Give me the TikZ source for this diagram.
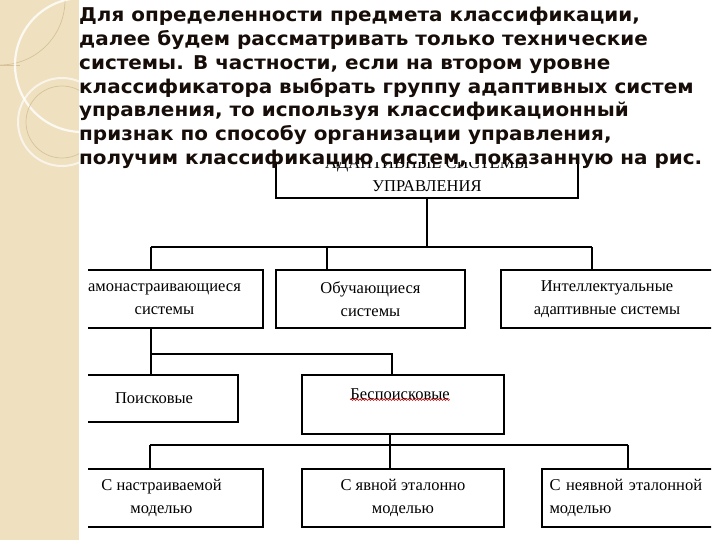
\documentclass[tikz,border=0pt]{standalone}
\usepackage{fontspec}
\setmainfont{Liberation Serif}
\newfontfamily\headfont{DejaVu Sans}[FakeStretch=1.05]
\usetikzlibrary{decorations.pathmorphing}
\definecolor{strip}{RGB}{239,225,192}
\definecolor{stripline}{RGB}{214,194,150}
\definecolor{headtext}{RGB}{22,12,8}
\tikzset{
	box/.style={draw, line width=1.5pt, fill=white, align=center, inner sep=0pt,
		font=\fontsize{16.5}{23}\selectfont},
	link/.style={line width=1.5pt},
	headline/.style={anchor=base west, inner sep=0pt, text=headtext,
		font=\headfont\bfseries\fontsize{19}{23}\selectfont},
}
\begin{document}
\begin{tikzpicture}[x=1pt, y=-1pt]
	\useasboundingbox (0,0) rectangle (720,540);
	\fill[white] (0,0) rectangle (720,540);
	\fill[strip] (0,0) rectangle (79,540);

	\begin{scope}
		\clip (0,0) rectangle (79,540);
		\draw[stripline, line width=0.7pt] (0,0) circle[radius=65pt];
		\draw[stripline, line width=0.7pt] (0,65) -- (20,65);
		\draw[white, opacity=0.8, line width=2.2pt] (82,65) circle[radius=67pt];
		\draw[white, opacity=0.65, line width=2pt] (62,122) circle[radius=44pt];
		\draw[stripline, line width=0.7pt] (62,122) circle[radius=36pt];
	\end{scope}

	\begin{scope}
		\clip (88,163) rectangle (711,540);

		\coordinate (bus1a) at (151,247);
		\coordinate (bus1b) at (327,247);
		\coordinate (bus1c) at (592,247);
		\coordinate (bus2a) at (151,354);
		\coordinate (bus2b) at (392,354);
		\coordinate (bus3a) at (150,445);
		\coordinate (bus3b) at (390,445);
		\coordinate (bus3c) at (628,445);

		\node[box, minimum width=302pt, minimum height=47pt] (adapt) at (427,174.5) {АДАПТИВНЫЕ СИСТЕМЫ\\УПРАВЛЕНИЯ};

		\node[box, minimum width=197pt, minimum height=58pt] (selftune) at (164.5,299) {амонастраивающиеся\\системы};
		\node[box, minimum width=189pt, minimum height=58pt] (learning) at (370.5,299) {Обучающиеся\\системы};
		\node[box, minimum width=212pt, minimum height=58pt] (intel) at (607,299) {Интеллектуальные\\адаптивные системы};

		\node[box, minimum width=168pt, minimum height=47pt] (search) at (154,398.5) {Поисковые};
		\node[box, minimum width=202pt, minimum height=59pt] (nosearch) at (403,404.5) {};
		\node[inner sep=0pt, font=\fontsize{16.5}{23}\selectfont] (nosearchtext) at (400,394) {Беспоисковые};

		\node[box, minimum width=203pt, minimum height=58pt] (tunable) at (161.5,498) {С настраиваемой\\моделью};
		\node[box, minimum width=202pt, minimum height=58pt] (explicit) at (403,498) {С явной эталонно\\моделью};
		\node[box, minimum width=190pt, minimum height=58pt, align=left, text width=175pt] (implicit) at (637,498) {С неявной эталонной\\моделью};

		\draw[red!85!black, line width=0.6pt, decorate, decoration={snake, amplitude=0.8pt, segment length=3pt}] (nosearchtext.south west) -- (nosearchtext.south east);

		\draw[link] (adapt.south) -- (adapt.south |- bus1a);
		\draw[link] (bus1a) -- (bus1c);
		\draw[link] (bus1a) -- (bus1a |- selftune.north);
		\draw[link] (bus1b) -- (bus1b |- learning.north);
		\draw[link] (bus1c) -- (bus1c |- intel.north);

		\draw[link] (bus2a |- selftune.south) -- (bus2a |- search.north);
		\draw[link] (bus2a) -- (bus2b) -- (bus2b |- nosearch.north);

		\draw[link] (bus3b |- nosearch.south) -- (bus3b |- explicit.north);
		\draw[link] (bus3a) -- (bus3c);
		\draw[link] (bus3a) -- (bus3a |- tunable.north);
		\draw[link] (bus3c) -- (bus3c |- implicit.north);
	\end{scope}

	\node[headline] (line1) at (79,22) {Для определенности предмета классификации,};
	\node[headline] (line2) at (79,45.7) {далее будем рассматривать только технические};
	\node[headline] (line3) at (79,69.4) {системы. В частности, если на втором уровне};
	\node[headline] (line4) at (79,93.1) {классификатора выбрать группу адаптивных систем};
	\node[headline] (line5) at (79,116.8) {управления, то используя классификационный};
	\node[headline] (line6) at (79,140.5) {признак по способу организации управления,};
	\node[headline] (line7) at (79,164.2) {получим классификацию систем, показанную на рис.};
\end{tikzpicture}
\end{document}
